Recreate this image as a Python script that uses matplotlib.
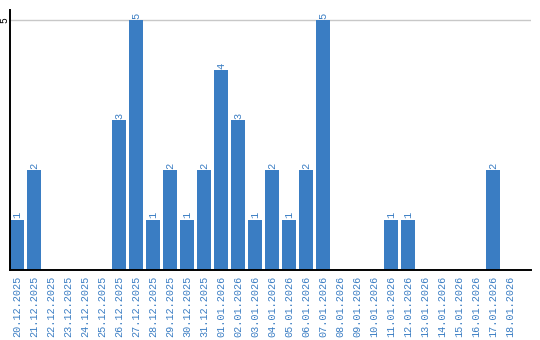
import matplotlib
matplotlib.use('Agg')
import matplotlib.pyplot as plt
import numpy as np

# Data
dates = ['20.12.2025', '21.12.2025', '22.12.2025', '23.12.2025', '24.12.2025',
         '25.12.2025', '26.12.2025', '27.12.2025', '28.12.2025', '29.12.2025',
         '30.12.2025', '31.12.2025', '01.01.2026', '02.01.2026', '03.01.2026',
         '04.01.2026', '05.01.2026', '06.01.2026', '07.01.2026', '08.01.2026',
         '09.01.2026', '10.01.2026', '11.01.2026', '12.01.2026', '13.01.2026',
         '14.01.2026', '15.01.2026', '16.01.2026', '17.01.2026', '18.01.2026']
counts = [1, 2, 0, 0, 0, 0, 3, 5, 1, 2, 1, 2, 4, 3, 1, 2, 1, 2, 5, 0,
          0, 0, 1, 1, 0, 0, 0, 0, 2, 0]
y_ticks = [5]

blue = '#3a7dc3'
plt.rcParams['font.family'] = ['Liberation Mono', 'DejaVu Sans Mono']

fig = plt.figure(figsize=(5.4, 3.4), dpi=100)
ax = fig.add_axes([10/540, 70/340, 521/540, 260/340])

x = np.arange(len(dates))
ax.bar(x, counts, width=0.82, color=blue, zorder=2)

# value labels above non-empty bars
for xi, c in zip(x, counts):
    if c > 0:
        ax.text(xi, c + 0.03, str(c), rotation=90, ha='center', va='bottom',
                fontsize=7.5, color=blue)

ax.axhline(5, color='#c8c8c8', linewidth=1, zorder=1)

ax.set_xlim(-0.41, 30.24)
ax.set_ylim(0, 5.2)
ax.set_xticks(x)
ax.set_xticklabels(dates, rotation=90, fontsize=7.3, color=blue)
ax.set_yticks(y_ticks)
ax.set_yticklabels([str(v) for v in y_ticks], rotation=90, fontsize=7,
                   va='center')
ax.tick_params(axis='x', length=0, pad=4)
ax.tick_params(axis='y', length=0, pad=0.3)

for side in ['top', 'right']:
    ax.spines[side].set_visible(False)
ax.spines['left'].set_linewidth(1.4)
ax.spines['bottom'].set_linewidth(1.4)

fig.savefig('out.png', dpi=100)
